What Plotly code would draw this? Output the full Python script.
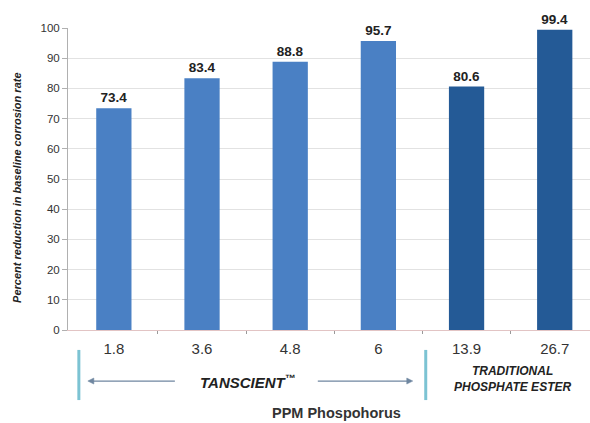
import plotly.graph_objects as go

categories = ["1.8", "3.6", "4.8", "6", "13.9", "26.7"]
values = [73.4, 83.4, 88.8, 95.7, 80.6, 99.4]
groups = ["TANSCIENT", "TANSCIENT", "TANSCIENT", "TANSCIENT", "TRADITIONAL", "TRADITIONAL"]
y_ticks = [0, 10, 20, 30, 40, 50, 60, 70, 80, 90, 100]

color_map = {"TANSCIENT": "#4a80c4", "TRADITIONAL": "#245a96"}
xpos = list(range(len(categories)))
FONT = "Liberation Sans, Arial"

fig = go.Figure()
fig.add_trace(go.Bar(
    x=xpos, y=values, width=0.4,
    marker=dict(color=[color_map[g] for g in groups], line=dict(width=0)),
    text=[f"<b>{v}</b>" for v in values], textposition="outside",
    textfont=dict(family=FONT, size=13.5, color="#222"),
    cliponaxis=False, showlegend=False,
))

fig.update_layout(
    width=590, height=423,
    margin=dict(l=68, r=0, t=28, b=93),
    paper_bgcolor="white", plot_bgcolor="white",
    bargap=0.6,
)
fig.update_xaxes(
    range=[-0.52, 5.40], tickvals=xpos, ticktext=categories,
    tickfont=dict(family=FONT, size=15, color="#333"),
    showgrid=False, showline=True, linecolor="#e2c4c4", linewidth=1,
    ticks="", ticklabelstandoff=5,
    minor=dict(tickvals=[0.5, 1.5, 2.5, 3.5, 4.5], ticks="outside", ticklen=3, tickcolor="#999"),
    zeroline=False,
)
fig.update_yaxes(
    range=[0, 100], tickvals=y_ticks,
    tickfont=dict(family=FONT, size=11.5, color="#333"),
    showgrid=True, gridcolor="#e2e2e2", gridwidth=1,
    showline=True, linecolor="#b0b0b0", linewidth=1,
    ticks="outside", ticklen=5, tickcolor="#b0b0b0",
    zeroline=False,
)

# y-axis title
fig.add_annotation(
    text="<b><i>Percent reduction in baseline corrosion rate</i></b>",
    xref="paper", yref="paper", x=-0.098, y=0.47, xanchor="center", yanchor="middle",
    textangle=-90, showarrow=False,
    font=dict(family=FONT, size=11, color="#222"),
)

# group separators (cyan vertical lines)
for xv in [-0.397, 3.537]:
    fig.add_shape(type="line", xref="x", yref="paper", x0=xv, x1=xv, y0=-0.066, y1=-0.232,
                  line=dict(color="#7cc3d3", width=3))

# arrows (line + triangular head)
ARROW = "#6f86a0"
ay = -0.169
for tail, head in [(0.692, -0.295), (2.313, 3.39)]:
    d = 0.068 if head < tail else -0.068
    fig.add_shape(type="line", xref="x", yref="paper", x0=tail, x1=head + d * 0.5, y0=ay, y1=ay,
                  line=dict(color=ARROW, width=1.2))
    fig.add_shape(type="path", xref="x", yref="paper",
                  path=f"M {head},{ay} L {head + d},{ay + 0.01} L {head + d},{ay - 0.01} Z",
                  fillcolor=ARROW, line=dict(color=ARROW, width=0.5))

fig.add_annotation(text="<b><i>TANSCIENT<sup>™</sup></i></b>", xref="x", yref="paper", x=1.52, y=-0.169,
                   xanchor="center", yanchor="middle", showarrow=False,
                   font=dict(family=FONT, size=15, color="#222"))
fig.add_annotation(text="<b><i>TRADITIONAL<br>PHOSPHATE ESTER</i></b>", xref="x", yref="paper",
                   x=4.52, y=-0.162, xanchor="center", yanchor="middle", showarrow=False,
                   font=dict(family=FONT, size=12, color="#222"))
fig.add_annotation(text="<b>PPM Phospohorus</b>", xref="x", yref="paper", x=2.52, y=-0.276,
                   xanchor="center", yanchor="middle", showarrow=False,
                   font=dict(family=FONT, size=14.5, color="#333"))

fig.write_html("out.html")
